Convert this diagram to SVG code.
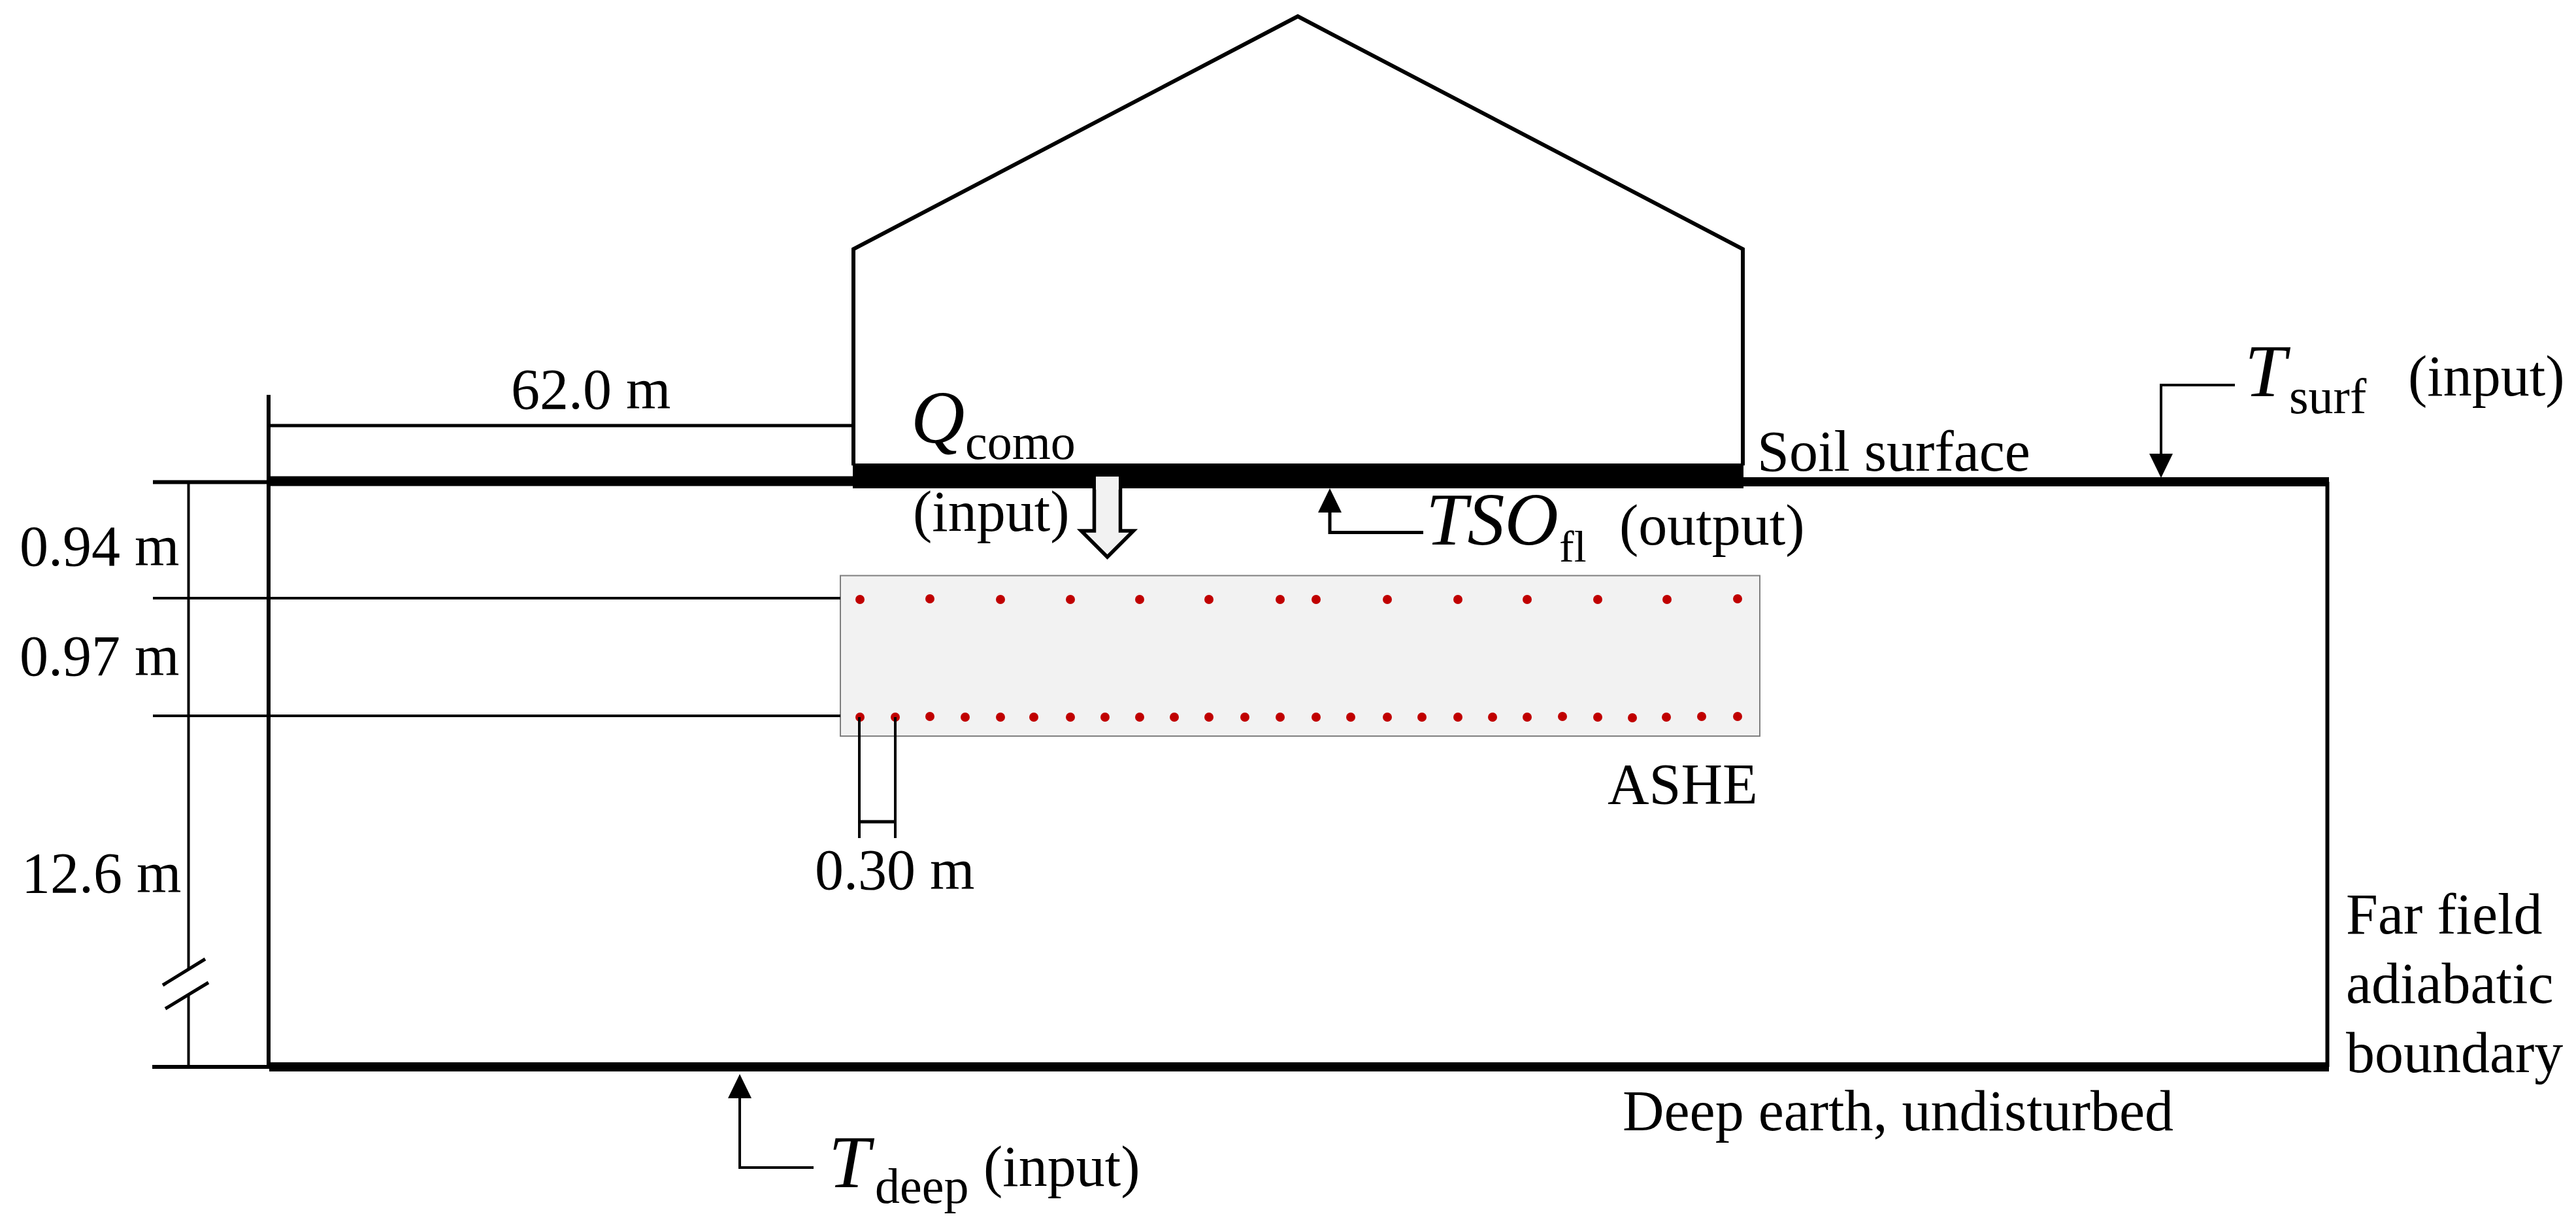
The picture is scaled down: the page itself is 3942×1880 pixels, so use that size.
<svg xmlns="http://www.w3.org/2000/svg" width="3942" height="1880" viewBox="0 0 3942 1880">
<style>
text{font-family:"Liberation Serif","Times New Roman",serif;font-size:88px;fill:#000}
.i{font-style:italic;font-size:114px}
.s{font-size:76px}
.l{fill:none;stroke:#000;stroke-width:6}
.t{fill:none;stroke:#000;stroke-width:4}
.b{fill:none;stroke:#000;stroke-width:14}
.d{fill:#c00000}
</style>
<defs>
<path id="up" d="M-18 37L0 0L18 37Z" fill="#000"/>
<path id="down" d="M-18 -37L0 0L18 -37Z" fill="#000"/>
<circle id="dot" r="7" class="d"/>
</defs>
<rect width="3942" height="1880" fill="#fff"/>
<g id="house"><path class="l" d="M1306 712V381L1986 25L2667 381V712"/></g>
<g id="ground">
<path class="l" d="M411 604V1632"/>
<path class="l" d="M3561.500 737V1632"/>
<path class="b" d="M411 736H1305" style="stroke-width:15"/>
<path class="b" d="M2667 737H3564"/>
<path d="M234 737.500H411" fill="none" stroke="#000" stroke-width="6"/>
<path d="M233 1632H412" fill="none" stroke="#000" stroke-width="6"/>
<path class="b" d="M412 1632H3564"/>
<rect x="1305" y="709" width="1363" height="38" fill="#000"/>
</g>
<g id="ashe">
<rect x="1286" y="880.500" width="1407" height="245.500" fill="#f2f2f2" stroke="#7f7f7f" stroke-width="2"/>
<g id="ashe-top-pipes">
<use href="#dot" x="1316" y="917"/><use href="#dot" x="1423" y="916"/><use href="#dot" x="1531" y="917"/><use href="#dot" x="1638" y="917"/><use href="#dot" x="1744" y="917"/><use href="#dot" x="1850" y="917"/><use href="#dot" x="1959" y="917"/><use href="#dot" x="2014" y="917"/><use href="#dot" x="2123" y="917"/><use href="#dot" x="2231" y="917"/><use href="#dot" x="2337" y="917"/><use href="#dot" x="2445" y="917"/><use href="#dot" x="2551" y="917"/><use href="#dot" x="2659" y="916"/>
</g>
<g id="ashe-bottom-pipes">
<use href="#dot" x="1316" y="1097"/><use href="#dot" x="1370" y="1097"/><use href="#dot" x="1423" y="1096"/><use href="#dot" x="1477" y="1097"/><use href="#dot" x="1531" y="1097"/><use href="#dot" x="1582" y="1097"/><use href="#dot" x="1638" y="1097"/><use href="#dot" x="1691" y="1097"/><use href="#dot" x="1744" y="1097"/><use href="#dot" x="1797" y="1097"/><use href="#dot" x="1850" y="1097"/><use href="#dot" x="1905" y="1097"/><use href="#dot" x="1959" y="1097"/><use href="#dot" x="2014" y="1097"/><use href="#dot" x="2067" y="1097"/><use href="#dot" x="2123" y="1097"/><use href="#dot" x="2176" y="1097"/><use href="#dot" x="2231" y="1097"/><use href="#dot" x="2284" y="1097"/><use href="#dot" x="2337" y="1097"/><use href="#dot" x="2391" y="1096"/><use href="#dot" x="2445" y="1097"/><use href="#dot" x="2498" y="1098"/><use href="#dot" x="2550" y="1097"/><use href="#dot" x="2604" y="1096"/><use href="#dot" x="2659" y="1096"/>
</g>
</g>
<g id="connectors">
<path class="l" d="M411 651H1305" style="stroke-width:5"/>
<path class="t" d="M234 915H1286M234 1095H1286"/>
<path class="t" d="M288.500 738V1482M288.500 1522V1630"/>
<path class="t" d="M314 1467L249 1507M319 1503L253 1543" style="stroke-width:5"/>
<path class="t" d="M1315 1097V1282M1370 1097V1282"/>
<path class="l" d="M1315 1257H1370" style="stroke-width:5"/>
<path class="l" d="M2035 780V814.500H2178" style="stroke-width:5"/>
<use href="#up" x="2035" y="747"/>
<path class="t" d="M3420 589H3307V697"/>
<use href="#down" x="3307" y="731"/>
<path class="t" d="M1132 1678V1786H1245"/>
<use href="#up" x="1132" y="1643"/>
<path fill="#f2f2f2" stroke="#000" stroke-width="5.500" d="M1674.500 746V812H1654.500L1694.500 852L1734.500 812H1714.500V746"/>
<rect x="1677" y="729" width="35" height="20" fill="#f2f2f2"/>
</g>
<g id="labels">
<text x="782" y="625">62.0 m</text>
<text x="30" y="865">0.94 m</text>
<text x="30" y="1033">0.97 m</text>
<text x="33" y="1365">12.6 m</text>
<text x="1247" y="1360">0.30 m</text>
<text x="2460" y="1229">ASHE</text>
<text x="2689" y="720">Soil surface</text>
<text x="3590" y="1428">Far field</text>
<text x="3590" y="1534">adiabatic</text>
<text x="3590" y="1640">boundary</text>
<text x="2483" y="1729">Deep earth, undisturbed</text>
<text class="i" x="1394" y="677">Q</text>
<text class="s" x="1477" y="702">como</text>
<text x="1397" y="812">(input)</text>
<text class="i" x="2182" y="833">TSO</text>
<text class="s" x="2386" y="859" style="font-size:68px">fl</text>
<text x="2478" y="833">(output)</text>
<text class="i" x="3435" y="606">T</text>
<text class="s" x="3503" y="632">surf</text>
<text x="3685" y="605">(input)</text>
<text class="i" x="1268" y="1816">T</text>
<text class="s" x="1339" y="1840">deep</text>
<text x="1505" y="1814">(input)</text>
</g>
</svg>
